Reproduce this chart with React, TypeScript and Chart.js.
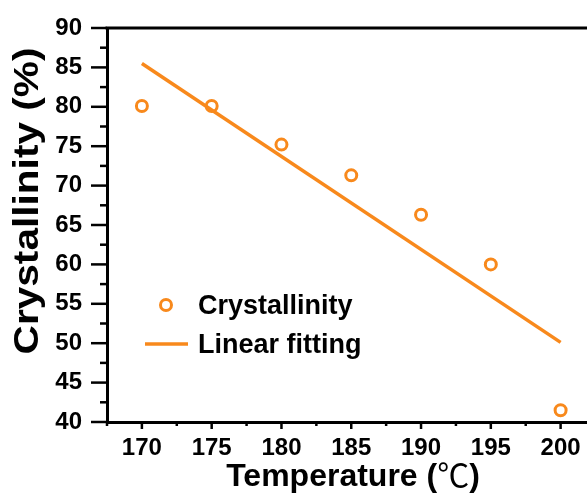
import React, { useEffect, useRef } from 'react';
import { Chart, registerables } from 'chart.js';

Chart.register(...registerables);

// ---- data ----
const temperatures = [170, 175, 180, 185, 190, 195, 200];
const crystallinity = [80.1, 80.1, 75.2, 71.3, 66.3, 60.0, 41.5];
const fitTemperatures = [170, 200];
const fitValues = [85.5, 50.1];
const xTickLabels = ['170', '175', '180', '185', '190', '195', '200'];
const yTickLabels = ['40', '45', '50', '55', '60', '65', '70', '75', '80', '85', '90'];
const seriesNames = ['Crystallinity', 'Linear fitting'];
const xTitle = ['Temperature (', '\u2103', ')'];
const yTitle = 'Crystallinity (%)';

const ORANGE = '#F8891C';
const FONT = '"Liberation Sans", Arial, sans-serif';

const decorPlugin = {
  id: 'decor',
  afterDraw(chart: any) {
    const { ctx, chartArea: ca, scales } = chart;
    const x = scales.x;
    const y = scales.y;
    ctx.save();
    ctx.strokeStyle = '#000';
    // top frame line
    ctx.lineWidth = 3;
    ctx.beginPath();
    ctx.moveTo(ca.left - 1.5, ca.top);
    ctx.lineTo(chart.width, ca.top);
    ctx.stroke();
    // y ticks (outward)
    ctx.lineWidth = 2.5;
    for (let i = 0; i <= 20; i++) {
      const v = y.min + i * 2.5;
      const major = Math.abs(v % 5) < 1e-6;
      const py = y.getPixelForValue(v);
      ctx.beginPath();
      ctx.moveTo(ca.left, py);
      ctx.lineTo(ca.left - (major ? 16 : 7), py);
      ctx.stroke();
    }
    // x ticks (outward)
    for (let i = 0; i <= 14; i++) {
      const v = x.min + i * 2.5;
      const major = Math.abs(v % 5) < 1e-6;
      const px = x.getPixelForValue(v);
      ctx.beginPath();
      ctx.moveTo(px, ca.bottom);
      ctx.lineTo(px, ca.bottom + (major ? 7 : 4));
      ctx.stroke();
    }

    // legend
    const ds0 = chart.data.datasets[0];
    const ds1 = chart.data.datasets[1];
    const lx = ca.left + 59;
    ctx.fillStyle = '#000';
    ctx.font = `bold 27px ${FONT}`;
    ctx.textBaseline = 'alphabetic';
    ctx.textAlign = 'left';
    // marker
    ctx.strokeStyle = ds0.borderColor;
    ctx.lineWidth = 3;
    ctx.beginPath();
    ctx.arc(lx, 305, 5.5, 0, Math.PI * 2);
    ctx.stroke();
    ctx.fillText(ds0.label, ca.left + 91, 314);
    // line
    ctx.strokeStyle = ds1.borderColor;
    ctx.lineWidth = 3.5;
    ctx.beginPath();
    ctx.moveTo(ca.left + 38, 344);
    ctx.lineTo(ca.left + 81, 344);
    ctx.stroke();
    ctx.fillText(ds1.label, ca.left + 91, 353);

    // x title
    const boldF = `bold 32px ${FONT}`;
    const cjkF = `32px "Noto Sans CJK SC", sans-serif`;
    ctx.font = boldF;
    const w1 = ctx.measureText(xTitle[0]).width;
    const w3 = ctx.measureText(xTitle[2]).width;
    ctx.font = cjkF;
    const w2 = ctx.measureText(xTitle[1]).width;
    const total = w1 + w2 + w3;
    const cx = 353;
    let sx = cx - total / 2;
    const by = 486;
    ctx.font = boldF;
    ctx.fillText(xTitle[0], sx, by);
    sx += w1;
    ctx.font = cjkF;
    ctx.fillText(xTitle[1], sx, by + 1);
    sx += w2;
    ctx.font = boldF;
    ctx.fillText(xTitle[2], sx, by);

    // y title
    ctx.save();
    ctx.translate(38, 201);
    ctx.rotate(-Math.PI / 2);
    ctx.scale(1.16, 1);
    ctx.font = `bold 35px ${FONT}`;
    ctx.textAlign = 'center';
    ctx.fillText(yTitle, 0, 0);
    ctx.restore();

    ctx.restore();
  },
};

export default function App() {
  const ref = useRef<HTMLCanvasElement>(null);
  useEffect(() => {
    const chart = new Chart(ref.current as HTMLCanvasElement, {
      type: 'scatter',
      data: {
        datasets: [
          {
            label: seriesNames[0],
            data: temperatures.map((t, i) => ({ x: t, y: crystallinity[i] })),
            showLine: false,
            pointStyle: 'circle',
            pointRadius: 5.5,
            pointBorderWidth: 3,
            borderColor: ORANGE,
            pointBorderColor: ORANGE,
            pointBackgroundColor: 'rgba(255,255,255,0)',
            order: 0,
          },
          {
            label: seriesNames[1],
            data: fitTemperatures.map((t, i) => ({ x: t, y: fitValues[i] })),
            showLine: true,
            borderColor: ORANGE,
            borderWidth: 3.5,
            pointRadius: 0,
            fill: false,
            order: 1,
          },
        ],
      },
      options: {
        responsive: false,
        animation: false,
        devicePixelRatio: 1,
        layout: { padding: { top: 28, right: 2, bottom: 0, left: 0 } },
        plugins: {
          legend: { display: false },
          tooltip: { enabled: false },
          title: { display: false },
        },
        scales: {
          x: {
            type: 'linear',
            min: 167.5,
            max: 202.5,
            afterFit: (s: any) => {
              s.height = 78;
              s.paddingLeft = 0;
              s.paddingRight = 0;
              s.paddingTop = 0;
              s.paddingBottom = 0;
            },
            afterBuildTicks: (s: any) => {
              s.ticks = xTickLabels.map((l) => ({ value: Number(l) }));
            },
            ticks: {
              autoSkip: false,
              maxRotation: 0,
              padding: 12,
              color: '#000',
              font: { family: FONT, size: 24, weight: 'bold' },
              callback: (v: any) => String(v),
            },
            grid: { display: true, drawOnChartArea: false, drawTicks: false },
            border: { display: true, color: '#000', width: 3 },
          },
          y: {
            type: 'linear',
            min: 40,
            max: 90,
            afterFit: (s: any) => {
              s.width = 107;
              s.paddingLeft = 0;
              s.paddingRight = 0;
              s.paddingTop = 0;
              s.paddingBottom = 0;
            },
            afterBuildTicks: (s: any) => {
              s.ticks = yTickLabels.map((l) => ({ value: Number(l) }));
            },
            ticks: {
              autoSkip: false,
              padding: 25,
              color: '#000',
              font: { family: FONT, size: 24, weight: 'bold' },
              callback: (v: any) => String(v),
            },
            grid: { display: true, drawOnChartArea: false, drawTicks: false },
            border: { display: true, color: '#000', width: 3 },
          },
        },
      },
      plugins: [decorPlugin],
    } as any);
    return () => chart.destroy();
  }, []);
  return (
    <div
      style={{
        position: 'fixed',
        left: 0,
        top: 0,
        width: 587,
        height: 500,
        overflow: 'hidden',
        background: '#fff',
      }}
    >
      <canvas ref={ref} width={604} height={500} style={{ display: 'block', width: 604, height: 500 }} />
    </div>
  );
}
